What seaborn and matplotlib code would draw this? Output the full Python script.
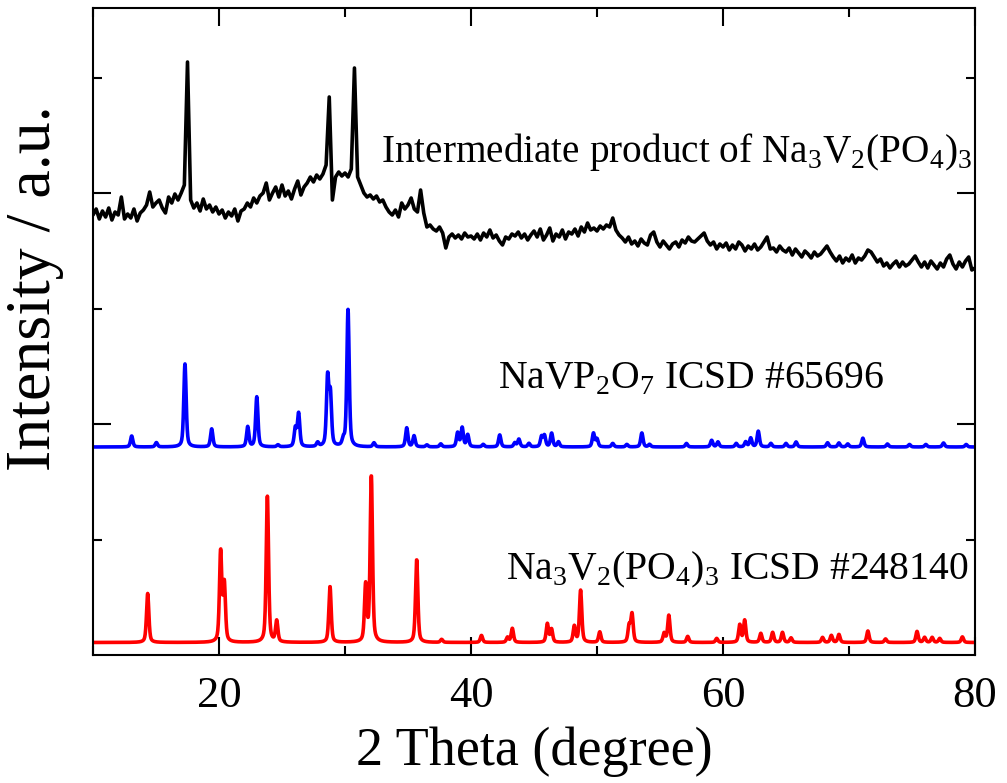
import numpy as np
import pandas as pd
import matplotlib
matplotlib.use("Agg")
import matplotlib.pyplot as plt
import seaborn as sns
from matplotlib.ticker import MultipleLocator, FixedLocator

# ---------------- data ----------------
# Intermediate product: measured pattern, 0.25 deg steps from 10 to 80 deg
black_start, black_step = 10.0, 0.25
black_y = [
    440, 446, 436, 444,   # 10
    438, 447, 435, 443,   # 11
    440, 458, 436, 441,   # 12
    437, 446, 434, 442,   # 13
    445, 450, 463, 448,   # 14
    452, 455, 447, 442,   # 15
    458, 452, 461, 455,   # 16
    462, 470, 593, 455,   # 17
    447, 452, 444, 456,   # 18
    446, 450, 443, 448,   # 19
    441, 445, 437, 443,   # 20
    439, 446, 434, 444,   # 21
    446, 452, 448, 457,   # 22
    452, 459, 462, 472,   # 23
    455, 462, 468, 458,   # 24
    470, 459, 464, 456,   # 25
    466, 474, 460, 468,   # 26
    472, 478, 473, 480,   # 27
    476, 481, 490, 558,   # 28
    455, 478, 483, 479,   # 29
    482, 478, 486, 587,   # 30
    478, 470, 462, 458,   # 31
    460, 456, 459, 453,   # 32
    455, 448, 443, 440,   # 33
    445, 438, 452, 446,   # 34
    450, 457, 446, 443,   # 35
    465, 442, 428, 430,   # 36
    426, 424, 428, 422,   # 37
    407, 418, 421, 417,   # 38
    420, 416, 422, 418,   # 39
    419, 416, 421, 415,   # 40
    422, 418, 425, 417,   # 41
    420, 414, 410, 418,   # 42
    416, 421, 419, 423,   # 43
    417, 421, 415, 420,   # 44
    424, 418, 426, 415,   # 45
    420, 427, 414, 421,   # 46
    418, 425, 416, 423,   # 47
    421, 426, 419, 428,   # 48
    423, 432, 425, 427,   # 49
    424, 429, 426, 430,   # 50
    428, 437, 425, 420,   # 51
    417, 413, 418, 411,   # 52
    414, 409, 416, 412,   # 53
    410, 420, 423, 413,   # 54
    408, 414, 410, 406,   # 55
    411, 413, 408, 415,   # 56
    412, 418, 414, 413,   # 57
    416, 419, 422, 414,   # 58
    410, 413, 406, 411,   # 59
    408, 412, 405, 410,   # 60
    406, 413, 410, 404,   # 61
    409, 406, 411, 405,   # 62
    408, 413, 418, 406,   # 63
    407, 403, 409, 405,   # 64
    403, 407, 400, 406,   # 65
    402, 398, 404, 401,   # 66
    397, 403, 399, 401,   # 67
    405, 409, 403, 398,   # 68
    394, 399, 392, 397,   # 69
    394, 400, 392, 397,   # 70
    395, 399, 405, 403,   # 71
    398, 393, 396, 389,   # 72
    392, 387, 391, 394,   # 73
    388, 393, 389, 391,   # 74
    395, 399, 393, 388,   # 75
    393, 387, 394, 390,   # 76
    386, 392, 388, 396,   # 77
    400, 391, 386, 393,   # 78
    388, 394, 398, 385,   # 79
    387,                  # 80
]

# NaVP2O7 ICSD #65696 reference: peak positions (deg) and heights
blue_base = 208
blue_pos = [13.07, 15.03, 17.3, 19.42, 22.28, 23.0, 24.68, 26.06, 26.32, 27.83,
            28.62, 28.84, 29.87, 30.24, 32.3, 34.9, 35.48, 36.5, 37.6, 38.94,
            39.3, 39.74, 40.97, 42.28, 43.48, 43.8, 44.6, 45.6, 45.83, 46.4,
            46.94, 49.72, 50.0, 51.25, 52.37, 53.56, 54.17, 57.1, 59.1, 59.6,
            61.05, 61.8, 62.2, 62.8, 63.8, 65.0, 65.8, 68.3, 69.2, 69.9,
            71.1, 73.05, 74.8, 76.1, 77.5, 79.3]
blue_h = [11, 4.3, 83, 18, 20, 50, 2, 18, 33, 4,
          68, 50, 6, 137, 4, 19, 11, 2, 3, 14,
          19, 12, 2.5, 12, 4, 7.7, 3.5, 10, 11, 13.6,
          5, 13.6, 7.7, 3.5, 2.5, 14, 2.5, 3.5, 6.6, 5,
          3.5, 5, 8.8, 15.7, 3.5, 3.5, 5, 4.2, 4, 3,
          8.8, 3, 2.5, 2.5, 4, 2.5]

# Na3V2(PO4)3 ICSD #248140 reference: peak positions (deg) and heights
red_base = 12.5
red_pos = [14.34, 20.13, 20.42, 23.84, 24.58, 28.81, 31.64, 32.09, 35.69, 37.67,
           40.83, 42.9, 43.28, 46.06, 46.39, 48.2, 48.7, 50.22, 52.55, 52.78,
           55.33, 55.7, 57.2, 59.5, 61.33, 61.72, 63.0, 63.94, 64.72, 65.4,
           67.9, 68.6, 69.2, 71.5, 72.9, 75.4, 76.0, 76.6, 77.2, 79.0]
red_h = [49, 90, 57, 146, 21, 56, 56, 166, 83, 3,
         7, 5, 14, 18.5, 13, 16, 52, 10.5, 16, 28,
         9, 27, 6, 4, 17.5, 22, 9, 10, 10, 4.5,
         5, 7, 8, 11.5, 3.5, 11, 5, 5, 4, 5.6]

labels = [r"Intermediate product of Na$_{\mathregular{3}}$V$_{\mathregular{2}}$(PO$_{\mathregular{4}}$)$_{\mathregular{3}}$",
          r"NaVP$_{\mathregular{2}}$O$_{\mathregular{7}}$ ICSD #65696",
          r"Na$_{\mathregular{3}}$V$_{\mathregular{2}}$(PO$_{\mathregular{4}}$)$_{\mathregular{3}}$ ICSD #248140"]
xlabel = "2 Theta (degree)"
ylabel = "Intensity / a.u."
xticks = [20, 40, 60, 80]

# ---------------- build curves ----------------
bx = black_start + black_step * np.arange(len(black_y))
grid = np.linspace(10, 80, 3501)

def pattern(pos, h, base, fwhm=0.22, eta=0.5):
    y = np.full_like(grid, base, dtype=float)
    hw = fwhm / 2
    for p, a in zip(pos, h):
        d = grid - p
        lor = 1.0 / (1.0 + (d / hw) ** 2)
        gau = np.exp(-np.log(2) * (d / hw) ** 2)
        y += a * (eta * lor + (1 - eta) * gau)
    return y

df_black = pd.DataFrame({"x": bx, "y": black_y})
df_blue = pd.DataFrame({"x": grid, "y": pattern(blue_pos, blue_h, blue_base)})
df_red = pd.DataFrame({"x": grid, "y": pattern(red_pos, red_h, red_base)})

# ---------------- style ----------------
sns.set_theme(style="ticks")
plt.rcParams["font.family"] = ["Liberation Serif", "DejaVu Serif"]
plt.rcParams["mathtext.fontset"] = "custom"
plt.rcParams["mathtext.rm"] = "Liberation Serif"
plt.rcParams["axes.linewidth"] = 1.5

fig = plt.figure(figsize=(10.07, 7.83), dpi=100)
ax = fig.add_axes([93 / 1007, 128 / 783, 882 / 1007, 647 / 783])

lw = 2.6
sns.lineplot(data=df_red, x="x", y="y", ax=ax, color="#ff0000", lw=lw, estimator=None, sort=False)
sns.lineplot(data=df_blue, x="x", y="y", ax=ax, color="#0000ff", lw=lw, estimator=None, sort=False)
sns.lineplot(data=df_black, x="x", y="y", ax=ax, color="black", lw=lw, estimator=None, sort=False)

ax.set_xlim(10, 80)
ax.set_ylim(0, 647)

ax.xaxis.set_major_locator(FixedLocator(xticks))
ax.xaxis.set_minor_locator(MultipleLocator(10))
ax.yaxis.set_major_locator(FixedLocator([231, 462]))
ax.yaxis.set_minor_locator(FixedLocator([115.5, 346.5, 577.5]))
ax.set_yticklabels([])
ax.tick_params(which="both", direction="in", top=True, right=True, width=1.5, color="black")
ax.tick_params(which="major", length=13)
ax.tick_params(which="minor", length=6.5)
ax.tick_params(axis="x", which="major", labelsize=32, pad=15, labelcolor="black")
for s in ax.spines.values():
    s.set_visible(True)
    s.set_color("black")
    s.set_linewidth(1.5)

ax.set_xlabel(xlabel, fontsize=39, color="black")
ax.set_ylabel(ylabel, fontsize=46, color="black")
ax.xaxis.set_label_coords(0.5, -0.15)
ax.xaxis.label.set_va("center")
ax.yaxis.set_label_coords(-0.066, 0.567)
ax.yaxis.label.set_va("center")

ax.text(79.8, 493, labels[0], ha="right", va="baseline", fontsize=28.3, color="black")
ax.text(57.5, 267, labels[1], ha="center", va="baseline", fontsize=28.5, color="black")
ax.text(79.45, 76, labels[2], ha="right", va="baseline", fontsize=28.5, color="black")

fig.savefig("out.png", dpi=100)
